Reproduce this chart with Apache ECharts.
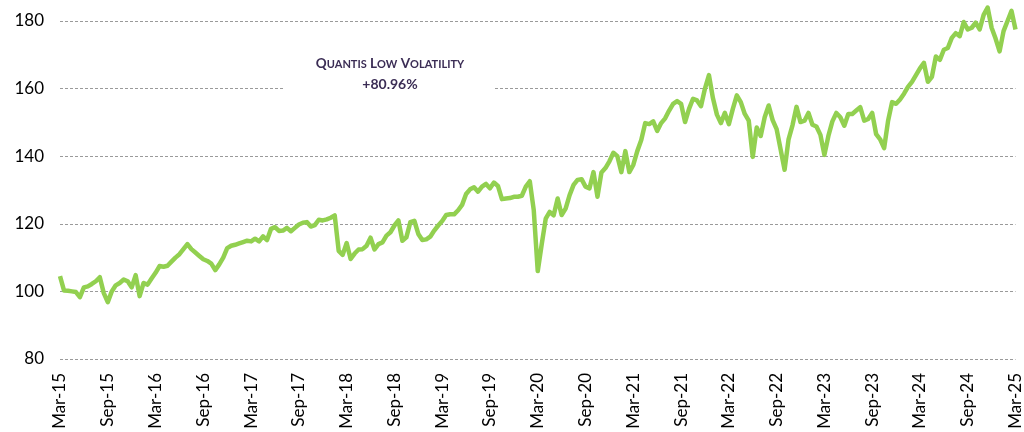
<!DOCTYPE html>
<html>
<head>
<meta charset="utf-8">
<style>
  html, body { margin: 0; padding: 0; background: #fff; }
  #chart { width: 1024px; height: 432px; }
</style>
<script src="https://cdn.jsdelivr.net/npm/echarts@6/dist/echarts.min.js"></script>
</head>
<body>
<div id="chart"></div>
<script>
// axis tick labels, one every 6 months (12 half-month steps)
const tickLabels = ['Mar-15', 'Sep-15', 'Mar-16', 'Sep-16', 'Mar-17', 'Sep-17', 'Mar-18',
  'Sep-18', 'Mar-19', 'Sep-19', 'Mar-20', 'Sep-20', 'Mar-21', 'Sep-21', 'Mar-22',
  'Sep-22', 'Mar-23', 'Sep-23', 'Mar-24', 'Sep-24', 'Mar-25']

// index level, read every half month from Mar-15 to Mar-25
const lowVol2015 = [104.5, 100.3, 100.2, 100, 99.8, 98.3, 101.2, 101.5, 102.2, 103, 104.2, 99.5,
  96.8, 100, 101.8, 102.5, 103.5, 103, 101.2, 104.8]
const lowVol2016 = [98.6, 102.5, 102, 103.8, 105.5, 107.5, 107.3, 107.6, 108.8, 110, 111, 112.5,
  114, 112.5, 111.5, 110.5, 109.5, 109, 108.2, 106.3, 108, 110, 112.8, 113.5]
const lowVol2017 = [113.8, 114.2, 114.6, 115, 114.8, 115.6, 114.8, 116.3, 115.2, 118.5, 119, 117.9,
  118, 118.8, 117.8, 118.8, 119.8, 120.3, 120.5, 119.2, 119.6, 121.2, 121, 121.3]
const lowVol2018 = [121.8, 122.5, 112, 110.8, 114.3, 109.6, 111.2, 112.4, 112.5, 113.5, 115.9, 112.4,
  114, 114.5, 116.5, 117.5, 119.5, 121, 115, 116, 120.5, 120.9, 117, 115.2]
const lowVol2019 = [115.4, 116.2, 118, 119.5, 120.8, 122.6, 122.8, 122.8, 124, 125.6, 128.8, 130.2,
  130.8, 129.5, 131, 131.8, 130.5, 132.2, 131.2, 127.3, 127.5, 127.6, 128, 128]
const lowVol2020 = [128.3, 131, 132.6, 124, 106, 114, 121.5, 123.5, 122.5, 127.5, 122.6, 124.5,
  128.5, 131.5, 133, 133.2, 131, 130.5, 135.3, 128, 135.2, 136.5, 138.5, 141]
const lowVol2021 = [140, 135.3, 141.5, 135.3, 137.4, 141.5, 144.8, 149.8, 149.5, 150.3, 147.5, 149.8,
  151.2, 153.5, 155.5, 156.3, 155.5, 150.1, 154, 157, 156.5, 154.8, 160, 164]
const lowVol2022 = [157.2, 152.3, 149.8, 152.8, 149.5, 154, 158, 156, 152.5, 150.5, 139.8, 148.5,
  146, 151.5, 155, 150.7, 148, 142, 136, 145, 149.2, 154.6, 150.1, 150.5]
const lowVol2023 = [152.8, 149.3, 148.8, 146.3, 140.4, 146, 150.3, 152.8, 151.5, 149, 152.5, 152.5,
  153.5, 154.5, 150.5, 151, 152.8, 146.5, 145, 142.4, 150.5, 156, 155.5, 156.8]
const lowVol2024 = [158.5, 160.5, 162, 164, 166, 167.6, 162, 163.5, 169.5, 168.5, 171.5, 172,
  175, 176.4, 175.5, 179.7, 177.5, 178, 179.5, 177.5, 181.8, 184, 178, 174.8]
const lowVol2025 = [171, 177, 180, 183, 177.5]

const lowVol = [].concat(lowVol2015, lowVol2016, lowVol2017, lowVol2018, lowVol2019,
  lowVol2020, lowVol2021, lowVol2022, lowVol2023, lowVol2024, lowVol2025)

const categories = lowVol.map((v, i) => (i % 12 === 0 ? tickLabels[i / 12] : ''))

const yTicks = { min: 80, max: 180, interval: 20 }

const textColor = '#3b2d55'
const chart = echarts.init(document.getElementById('chart'))

chart.setOption({
  animation: false,
  grid: {
    top: 21,
    bottom: 73,
    left: 60,
    right: 1
  },
  xAxis: {
    type: 'category',
    data: categories,
    boundaryGap: false,
    axisLine: { show: false },
    axisTick: { show: false },
    axisLabel: {
      interval: 11,
      rotate: 90,
      margin: 14,
      fontFamily: 'Lato',
      fontSize: 17,
      color: '#000'
    },
    splitLine: { show: false }
  },
  yAxis: {
    type: 'value',
    min: yTicks.min,
    max: yTicks.max,
    interval: yTicks.interval,
    axisLine: { show: false },
    axisTick: { show: false },
    axisLabel: {
      margin: 16,
      fontFamily: 'Lato',
      fontSize: 17,
      color: '#000'
    },
    splitLine: {
      lineStyle: { color: '#9a9a9a', width: 1, type: [3, 2] }
    }
  },
  series: [{
    name: 'Quantis Low Volatility',
    type: 'line',
    data: lowVol,
    clip: false,
    showSymbol: false,
    smooth: false,
    lineStyle: { color: '#92d050', width: 4.5, join: 'round' }
  }],
  graphic: [{
    type: 'rect',
    z: 100,
    shape: { x: 285, y: 48, width: 210, height: 52 },
    style: { fill: '#fff' }
  }, {
    type: 'text',
    z: 101,
    x: 390,
    y: 64,
    style: {
      text: '{b|Q}{s|UANTIS} {b|L}{s|OW} {b|V}{s|OLATILITY}',
      align: 'center',
      verticalAlign: 'middle',
      rich: {
        b: { fontFamily: 'Lato', fontWeight: 'bold', fontSize: 13.5, fill: textColor },
        s: { fontFamily: 'Lato', fontWeight: 'bold', fontSize: 11, fill: textColor }
      }
    }
  }, {
    type: 'text',
    z: 101,
    x: 390,
    y: 84,
    style: {
      text: '+80.96%',
      align: 'center',
      verticalAlign: 'middle',
      fontFamily: 'Lato',
      fontWeight: 'bold',
      fontSize: 14,
      fill: textColor
    }
  }]
})
</script>
</body>
</html>
